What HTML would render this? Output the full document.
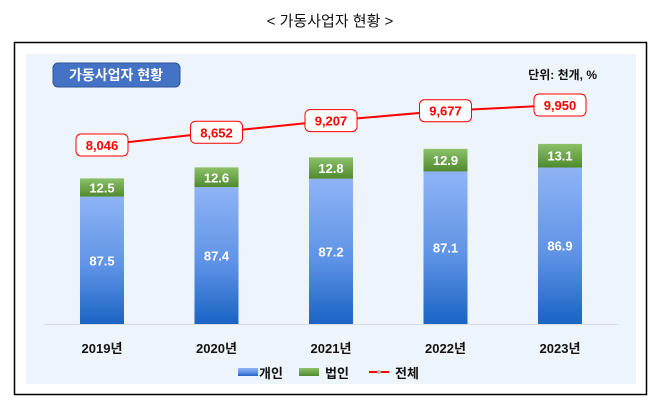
<!DOCTYPE html>
<html><head><meta charset="utf-8"><style>
body{margin:0;background:#fff;font-family:"Liberation Sans","Noto Sans CJK KR",sans-serif;}
</style></head><body>
<svg width="661" height="409" viewBox="0 0 661 409" xmlns="http://www.w3.org/2000/svg" font-family="Liberation Sans, Noto Sans CJK KR, sans-serif">
<defs>
<linearGradient id="gb" x1="0" y1="0" x2="0" y2="1"><stop offset="0" stop-color="#8fb4f5"/><stop offset="0.55" stop-color="#5f93e6"/><stop offset="1" stop-color="#1a64c4"/></linearGradient>
<linearGradient id="gg" x1="0" y1="0" x2="0" y2="1"><stop offset="0" stop-color="#8cc16a"/><stop offset="1" stop-color="#4f8a2e"/></linearGradient>
</defs>
<text x="330" y="26" text-anchor="middle" font-size="15" fill="#111">&lt; 가동사업자 현황 &gt;</text>
<rect x="14.5" y="42.5" width="632" height="352" fill="#fff" stroke="#000" stroke-width="1.5"/>
<rect x="26" y="54" width="610" height="330" fill="#edf4fa"/>
<rect x="53" y="63" width="127" height="24" rx="5" fill="#4472c4" stroke="#2f5597"/>
<text x="116" y="80" text-anchor="middle" font-size="14" font-weight="bold" fill="#fff">가동사업자 현황</text>
<text x="597" y="79" text-anchor="end" font-size="12" font-weight="bold" fill="#111">단위: 천개, %</text>
<line x1="44" y1="324.5" x2="618" y2="324.5" stroke="#d8dde3" stroke-width="1"/>
<g id="bars"></g><g id="line"></g><g id="xl"></g>
<g>
<rect x="238" y="368" width="20" height="8" fill="url(#gb)"/>
<text x="259" y="378" font-size="13" font-weight="bold" fill="#111">개인</text>
<rect x="299" y="368" width="20" height="8" fill="url(#gg)"/>
<text x="325" y="378" font-size="13" font-weight="bold" fill="#111">법인</text>
<line x1="369" y1="372" x2="389" y2="372" stroke="#f00" stroke-width="2"/>
<circle cx="379" cy="372" r="2" fill="#bbb"/>
<text x="395" y="378" font-size="13" font-weight="bold" fill="#111">전체</text>
</g>
</svg>
<script>
const years=["2019년","2020년","2021년","2022년","2023년"];
const indiv=[87.5,87.4,87.2,87.1,86.9];
const corp=[12.5,12.6,12.8,12.9,13.1];
const total=[8046,8652,9207,9677,9950];
const NS="http://www.w3.org/2000/svg";
const xC=i=>102+i*114.5;
const hB=(tot,pct)=>tot*pct/100*0.0181;
const yT=v=>145-(v-8046)*0.021;
function mk(t,a,p){const e=document.createElementNS(NS,t);for(const k in a)e.setAttribute(k,a[k]);p.appendChild(e);return e;}
const gb=document.getElementById('bars'),gl=document.getElementById('line'),gx=document.getElementById('xl');
years.forEach((y,i)=>{
 const x=xC(i)-22;
 const hi=hB(total[i],indiv[i]), hc=hB(total[i],corp[i]);
 const yi=324-hi, yc=yi-hc;
 const b=mk('rect',{x:x,y:yi,width:44,height:hi,fill:'url(#gb)'},gb);
 
 
 const c=mk('rect',{x:x,y:yc,width:44,height:hc,fill:'url(#gg)'},gb);
 
 
 const t1=mk('text',{x:xC(i),y:(yi+324)/2+5,'text-anchor':'middle','font-size':13,'font-weight':'bold',fill:'#fff'},gb);
 t1.textContent=indiv[i].toFixed(1);
 
 
 const t2=mk('text',{x:xC(i),y:(yi+yc)/2+5,'text-anchor':'middle','font-size':13,'font-weight':'bold',fill:'#fff'},gb);
 t2.textContent=corp[i].toFixed(1);
 
 
 const tx=mk('text',{x:xC(i),y:353,'text-anchor':'middle','font-size':13,'font-weight':'bold',fill:'#111'},gx);
 tx.textContent=y;
 
 
});
const pl=mk('polyline',{points:total.map((v,i)=>xC(i)+','+yT(v)).join(' '),fill:'none',stroke:'#f00','stroke-width':2},gl);


total.forEach((v,i)=>{
 const r=mk('rect',{x:xC(i)-26,y:yT(v)-11,width:52,height:22,rx:5,fill:'#fff',stroke:'#f00','stroke-width':1},gl);
 
 
 const t=mk('text',{x:xC(i),y:yT(v)+5,'text-anchor':'middle','font-size':13,'font-weight':'bold',fill:'#f00'},gl);
 t.textContent=v.toLocaleString('en-US');
 
 
});
</script>
</body></html>
